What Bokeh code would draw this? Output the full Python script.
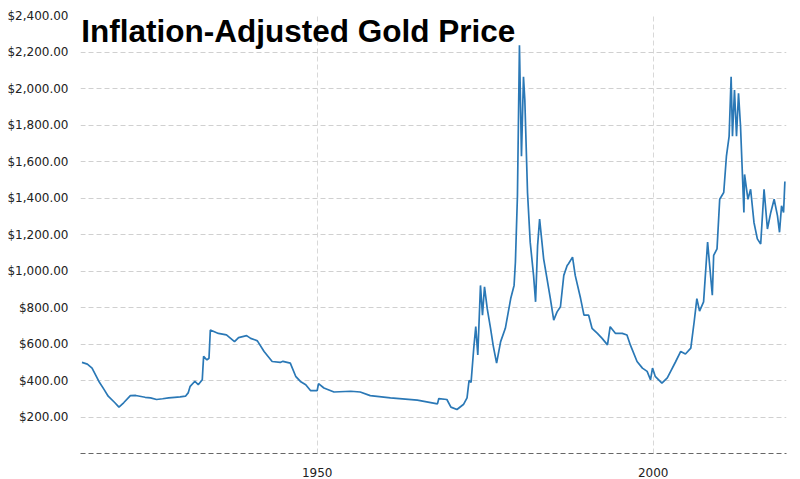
from bokeh.plotting import figure
from bokeh.models import FixedTicker, NumeralTickFormatter, Range1d, Label
from bokeh.embed import file_html
from bokeh.resources import INLINE

# ---- data ----
years = [1915.0, 1915.8, 1916.5, 1917.5, 1918.3, 1918.9, 1919.9, 1920.5, 1921.2, 1922.2,
         1923.0, 1924.4, 1925.2, 1926.1, 1927.0, 1927.9, 1928.8, 1929.6, 1930.4, 1930.8,
         1931.1, 1931.8, 1932.3, 1932.9, 1933.0, 1933.1, 1933.4, 1933.6, 1933.9, 1934.1,
         1935.3, 1936.5, 1937.7, 1938.3, 1939.5, 1940.1, 1940.8, 1941.1, 1942.1, 1943.3,
         1944.5, 1944.9, 1946.0, 1946.8, 1947.5, 1948.3, 1949.0, 1950.0, 1950.2, 1951.0,
         1952.5, 1955.0, 1956.4, 1957.9, 1960.9, 1964.9, 1967.9, 1968.1, 1969.3, 1969.9,
         1970.8, 1971.8, 1972.3, 1972.6, 1972.9, 1973.3, 1973.6, 1973.9, 1974.3, 1974.6,
         1974.9, 1975.3, 1975.8, 1976.2, 1976.7, 1977.3, 1978.0, 1978.8, 1979.3, 1979.5,
         1979.8, 1980.1, 1980.4, 1980.7, 1980.9, 1981.3, 1981.7, 1982.2, 1982.5, 1982.8,
         1983.1, 1983.7, 1984.2, 1984.7, 1985.2, 1985.7, 1986.2, 1986.7, 1987.2, 1987.4,
         1988.0, 1988.4, 1989.2, 1989.7, 1990.4, 1990.9, 1991.7, 1992.4, 1993.2, 1993.6,
         1994.4, 1995.4, 1996.1, 1996.6, 1997.6, 1998.4, 1999.1, 1999.6, 1999.9, 2000.3,
         2001.3, 2002.1, 2002.6, 2003.3, 2004.1, 2004.8, 2005.6, 2006.1, 2006.5, 2006.9,
         2007.5, 2008.1, 2008.8, 2009.0, 2009.5, 2009.9, 2010.5, 2010.9, 2011.3, 2011.6,
         2011.8, 2012.1, 2012.4, 2012.7, 2013.0, 2013.5, 2013.6, 2014.1, 2014.5, 2015.0,
         2015.5, 2016.0, 2016.5, 2017.0, 2017.5, 2018.0, 2018.5, 2018.8, 2019.1, 2019.4,
         2019.6]
prices = [499, 490, 468, 396, 350, 314, 278, 254, 278, 317,
          318, 308, 305, 296, 300, 305, 308, 310, 314, 332,
          368, 396, 377, 404, 470, 532, 520, 513, 522, 677,
          658, 650, 613, 635, 646, 631, 622, 617, 559, 504,
          499, 505, 495, 423, 395, 377, 345, 345, 383, 359,
          337, 341, 337, 317, 305, 292, 272, 301, 296, 254,
          241, 270, 305, 400, 390, 577, 695, 540, 921, 758,
          913, 795, 686, 590, 495, 613, 686, 849, 921, 1049,
          1411, 2237, 1629, 2064, 1937, 1430, 1158, 976, 831, 1139,
          1284, 1067, 958, 849, 731, 776, 804, 976, 1030, 1040,
          1076, 976, 849, 758, 758, 686, 658, 631, 595, 695,
          658, 658, 649, 595, 504, 468, 450, 404, 468, 423,
          386, 414, 450, 500, 559, 545, 577, 722, 849, 780,
          831, 1158, 867, 1085, 1121, 1393, 1430, 1629, 1738, 2064,
          1738, 1992, 1738, 1974, 1792, 1321, 1529, 1393, 1448, 1266,
          1176, 1148, 1448, 1230, 1321, 1393, 1302, 1212, 1357, 1321,
          1490]
x_ticks = [1950, 2000]
y_ticks = [200, 400, 600, 800, 1000, 1200, 1400, 1600, 1800, 2000, 2200, 2400]
title_text = "Inflation-Adjusted Gold Price"

p = figure(width=800, height=479, output_backend="svg", toolbar_location=None,
           x_range=Range1d(1914.78, 2019.84), y_range=Range1d(0, 2400),
           min_border_left=80, min_border_right=14, min_border_top=15, min_border_bottom=23)
p.outline_line_color = None
p.background_fill_color = "white"
p.border_fill_color = "white"

p.line(years, prices, line_color="#2a78b6", line_width=1.7)

# axes
p.yaxis.ticker = FixedTicker(ticks=y_ticks)
p.yaxis.formatter = NumeralTickFormatter(format="$0,0.00")
p.yaxis.axis_line_color = None
p.yaxis.major_tick_line_color = None
p.yaxis.minor_tick_line_color = None
p.yaxis.major_label_standoff = 6
p.yaxis.major_label_text_font = "DejaVu Sans"
p.yaxis.major_label_text_font_size = "12px"
p.yaxis.major_label_text_color = "#222222"

p.xaxis.ticker = FixedTicker(ticks=x_ticks)
p.xaxis.axis_line_color = "#666666"
p.xaxis.axis_line_dash = "5 3"
p.xaxis.axis_line_width = 1
p.xaxis.major_tick_line_color = None
p.xaxis.minor_tick_line_color = None
p.xaxis.major_label_standoff = 8
p.xaxis.major_label_text_font = "DejaVu Sans"
p.xaxis.major_label_text_font_size = "12px"
p.xaxis.major_label_text_color = "#222222"

# grids
p.ygrid.grid_line_color = "#d0d0d0"
p.ygrid.grid_line_dash = "5 3"
p.xgrid.grid_line_color = "#d8d8d8"
p.xgrid.grid_line_dash = "5 3"

title = Label(x=1914.9, y=2313, text=title_text, text_font="Liberation Sans",
              text_font_style="bold", text_font_size="31.5px", text_color="black",
              text_baseline="alphabetic", text_align="left")
p.add_layout(title)

open("out.html", "w").write(file_html(p, INLINE))
